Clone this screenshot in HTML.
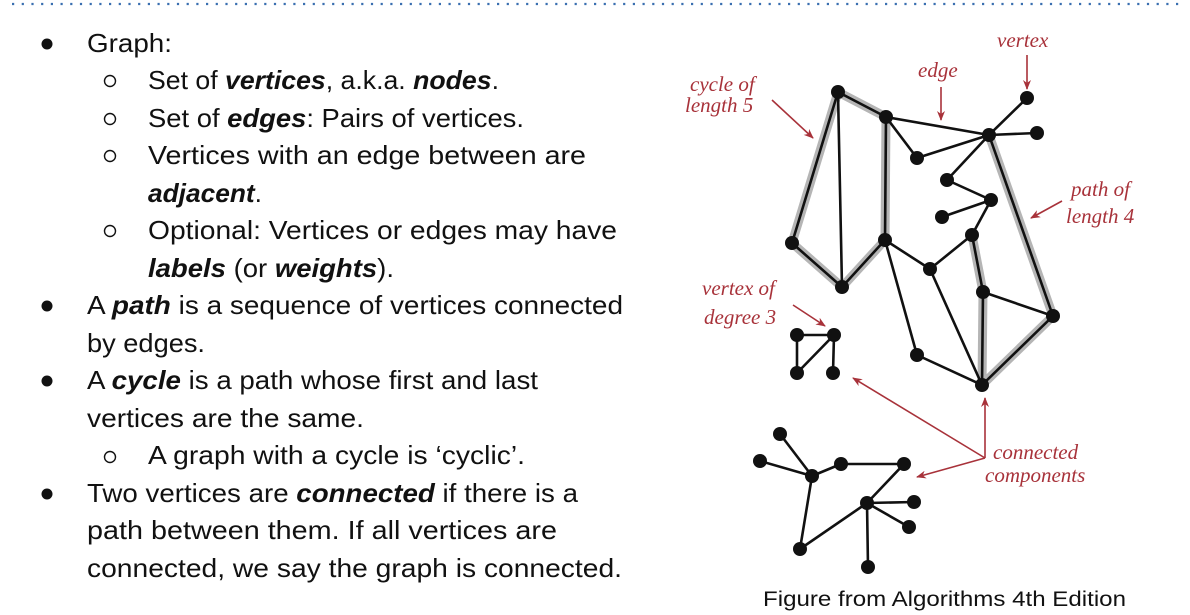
<!DOCTYPE html>
<html><head><meta charset="utf-8"><style>
html,body{margin:0;padding:0;background:#fff;}
svg{display:block;}
.t{font-family:"Liberation Sans",sans-serif;font-size:26px;fill:#111;}
.b{font-weight:bold;font-style:italic;}
.r{font-family:"Liberation Serif",serif;font-style:italic;font-size:21px;fill:#a8323a;}
</style></head><body>
<svg width="1190" height="615" viewBox="0 0 1190 615" xmlns="http://www.w3.org/2000/svg">
<defs><marker id="ah" markerWidth="10" markerHeight="8" refX="9" refY="4" orient="auto" markerUnits="userSpaceOnUse"><path d="M0,0 L10,4 L0,8 L3,4 Z" fill="#a8323a"/></marker></defs>
<line x1="12" y1="4" x2="1180" y2="4" stroke="#3a6fb0" stroke-width="2.2" stroke-dasharray="2.2 7.5"/>
<g fill="#111">
<circle cx="47" cy="44" r="5.5"/><circle cx="47" cy="306" r="5.5"/><circle cx="47" cy="381" r="5.5"/><circle cx="47" cy="494" r="5.5"/>
</g>
<g fill="none" stroke="#111" stroke-width="1.4">
<circle cx="110" cy="81" r="5.5"/><circle cx="110" cy="119" r="5.5"/><circle cx="110" cy="156" r="5.5"/><circle cx="110" cy="231" r="5.5"/><circle cx="110" cy="457" r="5.5"/>
</g>
<text class="t" x="87" y="52" textLength="85" lengthAdjust="spacingAndGlyphs">Graph:</text>
<text class="t" x="148" y="89" textLength="351" lengthAdjust="spacingAndGlyphs">Set of <tspan class="b">vertices</tspan>, a.k.a. <tspan class="b">nodes</tspan>.</text>
<text class="t" x="148" y="127" textLength="376" lengthAdjust="spacingAndGlyphs">Set of <tspan class="b">edges</tspan>: Pairs of vertices.</text>
<text class="t" x="148" y="164" textLength="438" lengthAdjust="spacingAndGlyphs">Vertices with an edge between are</text>
<text class="t" x="148" y="202" textLength="114" lengthAdjust="spacingAndGlyphs"><tspan class="b">adjacent</tspan>.</text>
<text class="t" x="148" y="239" textLength="469" lengthAdjust="spacingAndGlyphs">Optional: Vertices or edges may have</text>
<text class="t" x="148" y="277" textLength="246" lengthAdjust="spacingAndGlyphs"><tspan class="b">labels</tspan> (or <tspan class="b">weights</tspan>).</text>
<text class="t" x="87" y="314" textLength="536" lengthAdjust="spacingAndGlyphs">A <tspan class="b">path</tspan> is a sequence of vertices connected</text>
<text class="t" x="87" y="352" textLength="118" lengthAdjust="spacingAndGlyphs">by edges.</text>
<text class="t" x="87" y="389" textLength="451" lengthAdjust="spacingAndGlyphs">A <tspan class="b">cycle</tspan> is a path whose first and last</text>
<text class="t" x="87" y="427" textLength="277" lengthAdjust="spacingAndGlyphs">vertices are the same.</text>
<text class="t" x="148" y="464" textLength="377" lengthAdjust="spacingAndGlyphs">A graph with a cycle is ‘cyclic’.</text>
<text class="t" x="87" y="502" textLength="491" lengthAdjust="spacingAndGlyphs">Two vertices are <tspan class="b">connected</tspan> if there is a</text>
<text class="t" x="87" y="539" textLength="470" lengthAdjust="spacingAndGlyphs">path between them. If all vertices are</text>
<text class="t" x="87" y="577" textLength="535" lengthAdjust="spacingAndGlyphs">connected, we say the graph is connected.</text>

<g fill="none" stroke="#b5b5b5" stroke-width="9" stroke-linejoin="round" stroke-linecap="round">
<polyline points="838,92 886,117 885,240 842,287 792,243 838,92"/>
<polyline points="989,135 1053,316 982,385 983,292 972,235"/>
</g>
<g stroke="#111" stroke-width="2.6" stroke-linecap="round">
<line x1="838" y1="92" x2="886" y2="117"/><line x1="838" y1="92" x2="792" y2="243"/><line x1="838" y1="92" x2="842" y2="287"/>
<line x1="792" y1="243" x2="842" y2="287"/><line x1="842" y1="287" x2="885" y2="240"/><line x1="886" y1="117" x2="885" y2="240"/>
<line x1="886" y1="117" x2="917" y2="158"/><line x1="886" y1="117" x2="989" y2="135"/><line x1="989" y1="135" x2="1027" y2="98"/>
<line x1="989" y1="135" x2="1037" y2="133"/><line x1="989" y1="135" x2="917" y2="158"/><line x1="989" y1="135" x2="947" y2="180"/>
<line x1="947" y1="180" x2="991" y2="200"/><line x1="991" y1="200" x2="942" y2="217"/><line x1="991" y1="200" x2="972" y2="235"/>
<line x1="972" y1="235" x2="930" y2="269"/><line x1="885" y1="240" x2="930" y2="269"/><line x1="885" y1="240" x2="917" y2="355"/>
<line x1="917" y1="355" x2="982" y2="385"/><line x1="930" y1="269" x2="982" y2="385"/><line x1="972" y1="235" x2="983" y2="292"/>
<line x1="983" y1="292" x2="982" y2="385"/><line x1="983" y1="292" x2="1053" y2="316"/><line x1="989" y1="135" x2="1053" y2="316"/>
<line x1="1053" y1="316" x2="982" y2="385"/>
<line x1="797" y1="335" x2="834" y2="335"/><line x1="797" y1="335" x2="797" y2="373"/><line x1="797" y1="373" x2="834" y2="335"/><line x1="834" y1="335" x2="833" y2="373"/>
<line x1="780" y1="434" x2="812" y2="476"/><line x1="760" y1="461" x2="812" y2="476"/><line x1="812" y1="476" x2="841" y2="464"/>
<line x1="841" y1="464" x2="904" y2="464"/><line x1="904" y1="464" x2="867" y2="503"/><line x1="867" y1="503" x2="914" y2="502"/>
<line x1="867" y1="503" x2="909" y2="527"/><line x1="867" y1="503" x2="868" y2="567"/><line x1="867" y1="503" x2="800" y2="549"/>
<line x1="800" y1="549" x2="812" y2="476"/>
</g>
<g fill="#111">
<circle cx="838" cy="92" r="7"/><circle cx="886" cy="117" r="7"/><circle cx="989" cy="135" r="7"/><circle cx="1027" cy="98" r="7"/>
<circle cx="1037" cy="133" r="7"/><circle cx="917" cy="158" r="7"/><circle cx="947" cy="180" r="7"/><circle cx="991" cy="200" r="7"/>
<circle cx="942" cy="217" r="7"/><circle cx="792" cy="243" r="7"/><circle cx="885" cy="240" r="7"/><circle cx="972" cy="235" r="7"/>
<circle cx="842" cy="287" r="7"/><circle cx="930" cy="269" r="7"/><circle cx="983" cy="292" r="7"/><circle cx="1053" cy="316" r="7"/>
<circle cx="917" cy="355" r="7"/><circle cx="982" cy="385" r="7"/>
<circle cx="797" cy="335" r="7"/><circle cx="834" cy="335" r="7"/><circle cx="797" cy="373" r="7"/><circle cx="833" cy="373" r="7"/>
<circle cx="780" cy="434" r="7"/><circle cx="760" cy="461" r="7"/><circle cx="812" cy="476" r="7"/><circle cx="841" cy="464" r="7"/>
<circle cx="904" cy="464" r="7"/><circle cx="867" cy="503" r="7"/><circle cx="914" cy="502" r="7"/><circle cx="909" cy="527" r="7"/>
<circle cx="800" cy="549" r="7"/><circle cx="868" cy="567" r="7"/>
</g>
<g stroke="#a8323a" stroke-width="1.6" fill="none" marker-end="url(#ah)">
<line x1="1027" y1="55" x2="1027" y2="89"/>
<line x1="941" y1="87" x2="941" y2="120"/>
<line x1="772" y1="100" x2="813" y2="138"/>
<line x1="1062" y1="201" x2="1031" y2="218"/>
<line x1="793" y1="305" x2="825" y2="326"/>
<line x1="985" y1="458" x2="853" y2="378"/>
<line x1="985" y1="458" x2="917" y2="477"/>
<line x1="985" y1="458" x2="985" y2="398"/>
</g>
<text class="r" x="997" y="47">vertex</text>
<text class="r" x="918" y="77">edge</text>
<text class="r" x="690" y="91">cycle of</text>
<text class="r" x="685" y="112">length 5</text>
<text class="r" x="1071" y="196">path of</text>
<text class="r" x="1066" y="223">length 4</text>
<text class="r" x="702" y="295">vertex of</text>
<text class="r" x="704" y="324">degree 3</text>
<text class="r" x="993" y="459">connected</text>
<text class="r" x="985" y="482">components</text>
<text x="763" y="606" font-family="'Liberation Sans',sans-serif" font-size="21" fill="#111" textLength="363" lengthAdjust="spacingAndGlyphs">Figure from Algorithms 4th Edition</text>
</svg>
</body></html>
